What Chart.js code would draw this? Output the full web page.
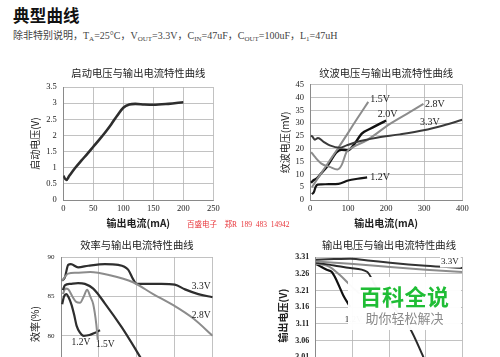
<!DOCTYPE html>
<html><head><meta charset="utf-8">
<script src="https://cdn.jsdelivr.net/npm/chart.js@4/dist/chart.umd.min.js"></script>
<style>
body{margin:0;width:500px;height:357px;overflow:hidden;background:#fff;position:relative;font-family:"Liberation Serif","Noto Sans CJK SC",serif}
canvas{position:absolute}
#h1{position:absolute;left:13px;top:3px;font:bold 16.5px "Noto Sans CJK SC";color:#111;letter-spacing:0.2px}
#sub{position:absolute;left:13px;top:27px;font-size:10px;color:#444;white-space:nowrap}
#sub sub{font-size:7px;vertical-align:-2px}
#red{position:absolute;left:187px;top:218px;font-size:7.5px;color:#e8353a;white-space:nowrap}
#wm{position:absolute;left:348px;top:277px;width:113px;height:53px;background:rgba(255,255,255,0.97);border-radius:4px;text-align:center}
#wm .a{font:bold 22px "Noto Sans CJK SC";color:#1fbd35;line-height:24px;margin-top:6px;letter-spacing:0.5px}
#wm .b{font:13px "Noto Sans CJK SC";color:#8a8a8a;line-height:18px;margin-top:2px}
</style></head><body>
<div id="h1">典型曲线</div>
<div id="sub">除非特别说明，T<sub>A</sub>=25°C，V<sub>OUT</sub>=3.3V，C<sub>IN</sub>=47uF，C<sub>OUT</sub>=100uF，L<sub>1</sub>=47uH</div>
<canvas id="c1" width="250" height="170" style="left:0;top:60px"></canvas>
<canvas id="c2" width="250" height="170" style="left:250px;top:60px"></canvas>
<canvas id="c3" width="250" height="196" style="left:0;top:225px"></canvas>
<canvas id="c4" width="250" height="179" style="left:250px;top:225px"></canvas>
<div id="red">百盛电子&nbsp;&nbsp;&nbsp;&nbsp;郑R&nbsp; 189&nbsp; 483&nbsp; 14942</div>
<div id="wm"><div class="a">百科全说</div><div class="b">助你轻松解决</div></div>
<script>
// ---------- data ----------
// Chart 1: start voltage vs output current
const startCurrent = [0,5,10,20,30,40,50,60,70,80,90,100,110,120,135,150,175,200];
const startVoltage = [0.75,0.62,0.75,1.0,1.22,1.43,1.65,1.87,2.1,2.35,2.62,2.86,2.96,2.98,2.96,2.95,2.98,3.03];

// Chart 2: ripple voltage (mV) vs output current (mA)
const ripple12 = [[5,2.3],[10,3.0],[15,5.2],[20,6.0],[30,6.1],[50,6.2],[75,6.3],[100,7.6],[125,8.3],[150,8.8]];
const ripple15 = [[5,5.0],[25,9.5],[50,15],[75,20.5],[100,26.2],[125,32],[153,38.3]];
const ripple20 = [[3,6.7],[10,7.8],[18,8.4],[30,10.5],[44,12.9],[55,15.5],[70,18.7],[83,19.6],[100,19.4],[114,21.3],[136,25.9],[158,27.8],[180,29.5],[200,31]];
const ripple28 = [[3,18.7],[13,16.8],[30,14.2],[52,12.9],[72,11.9],[83,13.6],[96,18.7],[114,20.7],[149,23.3],[210,29.7],[262,34.3],[298,37.5]];
const ripple33 = [[3,25.2],[7,24.6],[13,23.5],[21,24.2],[35,22.8],[52,21.3],[79,20.4],[96,21.3],[122,22.6],[175,24.3],[236,25.6],[298,27.2],[350,29.1],[400,31.3]];

// Chart 3: efficiency (%) vs output current
const eff33 = [[3,87.0],[10,87.4],[19,89.0],[26,89.1],[45,88.7],[72,88.9],[116,89.1],[151,89.0],[177,88.4],[190,87.2],[200,86.6],[265,86.6],[300,86.5],[327,85.9],[362,85.3],[400,84.9]];
const eff28 = [[3,87.0],[19,87.9],[40,88.0],[77,88.1],[129,87.7],[190,86.8],[243,85.3],[296,83.9],[349,82.2],[400,80.0]];
const eff20 = [[5,85.8],[10,86.4],[25,86.6],[45,86.7],[63,86.6],[85,86.0],[116,84.1],[160,81.1],[199,78.1],[215,76.8]];
const eff15 = [[5,85.3],[12,86.0],[19,85.9],[30,85.0],[40,84.3],[50,84.2],[60,85.0],[69,85.85],[77,85.0],[85,84.0],[93,81.5],[97,79.5]];
const eff12 = [[3,84.0],[8,85.0],[14,85.3],[20,84.9],[28,83.9],[35,82.6],[41,81.3],[50,80.4],[60,80.0],[75,80.1],[90,80.4],[103,80.7]];
const effTicks = [75,80,85,90];

// Chart 4: output voltage (V) vs output current
const vout33 = [[0,3.302],[50,3.304],[94,3.305],[150,3.299],[203,3.293],[300,3.284],[400,3.277]];
const vout28 = [[0,3.297],[94,3.29],[203,3.28],[300,3.272],[400,3.265]];
const vout20 = [[0,3.293],[50,3.285],[94,3.277],[140,3.266],[165,3.22],[220,3.15],[257,3.097],[290,3.02],[305,2.98]];
const vout15 = [[0,3.29],[20,3.287],[39,3.28],[66,3.256],[94,3.226],[120,3.2]];
const vout12 = [[0,3.29],[16,3.28],[30,3.272],[44,3.265],[57,3.24],[75,3.196],[94,3.161]];
const voutTicks = [2.96,3.01,3.06,3.11,3.16,3.21,3.26,3.31];

// curve labels (data coordinates)
const rippleLabels = [{t:'1.5V',x:158,y:39.1},{t:'2.0V',x:178,y:33.6},{t:'2.8V',x:302,y:37.5},{t:'3.3V',x:289,y:30.4},{t:'1.2V',x:158,y:8.8}];
const effLabels = [{t:'3.3V',x:345,y:86.3},{t:'2.8V',x:345,y:82.6},{t:'1.2V',x:28,y:79.1},{t:'1.5V',x:92,y:78.9}];
const voutLabels = [{t:'3.3V',x:342,y:3.295,bg:true},{t:'1.2V',x:79,y:3.122}];

// ---------- helpers ----------
const pts = a => a.map(p => ({x:p[0], y:p[1]}));
const SERIF = "'Liberation Serif', serif";
const CJK = "'Noto Sans CJK SC', sans-serif";
const GRID = '#b3b3b3', BORDER = '#8a8a8a';

const labelPlugin = {
  id:'curveLabels',
  afterDatasetsDraw(chart, args, opts){
    const items = opts.items || [];
    const {ctx} = chart, xs = chart.scales.x, ys = chart.scales.y;
    ctx.save();
    ctx.font = opts.font || ('9.5px ' + SERIF);
    ctx.textAlign = 'left'; ctx.textBaseline = 'middle';
    items.forEach(it => {
      const px = xs.getPixelForValue(it.x), py = ys.getPixelForValue(it.y);
      if (it.bg){ const w = ctx.measureText(it.t).width; ctx.fillStyle = '#fff'; ctx.fillRect(px-1, py-5.5, w+3, 11); }
      ctx.fillStyle = opts.color || '#222';
      ctx.fillText(it.t, px, py);
    });
    ctx.restore();
  }
};

function ds(data, color, width){
  return {data: pts(data), borderColor: color, borderWidth: width, pointRadius: 0, fill:false,
          tension: 0.4, cubicInterpolationMode: 'monotone'};
}

function makeChart(id, cfg){
  return new Chart(document.getElementById(id), {
    type: 'line',
    data: {datasets: cfg.datasets},
    plugins: [labelPlugin],
    options: {
      responsive:false, animation:false, devicePixelRatio:1,
      layout:{padding:{left:0, right:cfg.padRight, top:0, bottom:0}},
      plugins:{
        legend:{display:false}, tooltip:{enabled:false},
        title:{display:true, text:cfg.title, fullSize:false, color:'#222',
               font:{family:CJK, size:10.3, weight:'normal', lineHeight:1.2},
               padding:{top:cfg.titleTop, bottom:cfg.titleBottom}},
        curveLabels:{items:cfg.labels, font:cfg.labelFont}
      },
      scales:{
        x:{type:'linear', min:cfg.xMin, max:cfg.xMax,
           afterFit: s => { s.height = cfg.xH; },
           grid:{color:GRID, drawTicks:false, lineWidth:0.8},
           border:{color:BORDER, width:1},
           ticks:{stepSize:cfg.xStep, autoSkip:false, padding:4, color:'#222', font:{family:SERIF, size:8.5}},
           title:{display:true, text:'输出电流(mA)', color:'#222', padding:{top:0,bottom:1},
                  font:{family:CJK, size:10, weight:'bold'}}},
        y:{type:'linear', min:cfg.yMin, max:cfg.yMax,
           afterFit: s => { s.width = cfg.yW; },
           afterBuildTicks: cfg.yTicks ? (s => { s.ticks = cfg.yTicks.map(v => ({value:v})); }) : undefined,
           grid:{color:GRID, drawTicks:false, lineWidth:0.8},
           border:{color:BORDER, width:1},
           ticks:{stepSize:cfg.yStep, autoSkip:false, padding:cfg.yPad, color:'#222', font:cfg.yTickFont,
                  callback: cfg.yFmt || (v => v)},
           title:{display:true, text:cfg.yTitle, color:'#222', padding:{top:cfg.yTitlePad, bottom:0},
                  font:cfg.yTitleFont}}
      }
    }
  });
}

// Chart 1
makeChart('c1', {
  title:'启动电压与输出电流特性曲线', titleTop:7, titleBottom:7.7, padRight:36.7,
  datasets:[ds(startCurrent.map((c,i)=>[c,startVoltage[i]]), '#2e2e2e', 2.6)],
  xMin:0, xMax:250, xStep:50, xH:30,
  yMin:0, yMax:3.5, yStep:0.5, yW:63.3, yPad:6.5,
  yTickFont:{family:SERIF, size:8.5},
  yTitle:'启动电压(V)', yTitlePad:29, yTitleFont:{family:CJK, size:10, weight:'normal'},
  labels:[]
});

// Chart 2
makeChart('c2', {
  title:'纹波电压与输出电流特性曲线', titleTop:7, titleBottom:5.3, padRight:37.7,
  datasets:[
    ds(ripple33, '#3a3a3a', 2),
    ds(ripple28, '#8c8c8c', 2),
    ds(ripple15, '#8c8c8c', 2),
    ds(ripple20, '#111111', 2.4),
    ds(ripple12, '#151515', 2.2)
  ],
  xMin:0, xMax:400, xStep:100, xH:30,
  yMin:0, yMax:45, yStep:5, yW:60, yPad:6,
  yTickFont:{family:SERIF, size:8.5},
  yTitle:'纹波电压(mV)', yTitlePad:29, yTitleFont:{family:CJK, size:10, weight:'normal'},
  labels:rippleLabels, labelFont:'10px ' + SERIF
});

// Chart 3
makeChart('c3', {
  title:'效率与输出电流特性曲线', titleTop:14, titleBottom:5.7, padRight:37.3,
  datasets:[
    ds(eff28, '#8c8c8c', 2),
    ds(eff33, '#2e2e2e', 2.2),
    ds(eff20, '#2e2e2e', 2.2),
    ds(eff15, '#8c8c8c', 2),
    ds(eff12, '#2e2e2e', 2.2)
  ],
  xMin:0, xMax:400, xStep:100, xH:30,
  yMin:73, yMax:90, yTicks:effTicks, yW:61, yPad:6.5,
  yTickFont:{family:SERIF, size:7},
  yTitle:'效率(%)', yTitlePad:29, yTitleFont:{family:CJK, size:10, weight:'normal'},
  labels:effLabels, labelFont:'9.5px ' + SERIF
});

// Chart 4
makeChart('c4', {
  title:'输出电压与输出电流特性曲线', titleTop:14, titleBottom:5.7, padRight:37.7,
  datasets:[
    ds(vout33, '#333333', 2),
    ds(vout28, '#8c8c8c', 2),
    ds(vout20, '#2a2a2a', 2),
    ds(vout15, '#8c8c8c', 2),
    ds(vout12, '#111111', 2.2)
  ],
  xMin:0, xMax:400, xStep:100, xH:30,
  yMin:2.96, yMax:3.31, yTicks:voutTicks, yW:65.7, yPad:6.4,
  yFmt: v => v.toFixed(2),
  yTickFont:{family:SERIF, size:8, weight:'bold'},
  yTitle:'输出电压(V)', yTitlePad:27.3, yTitleFont:{family:CJK, size:10, weight:'bold'},
  labels:voutLabels, labelFont:'9px ' + SERIF
});
</script>
</body></html>
